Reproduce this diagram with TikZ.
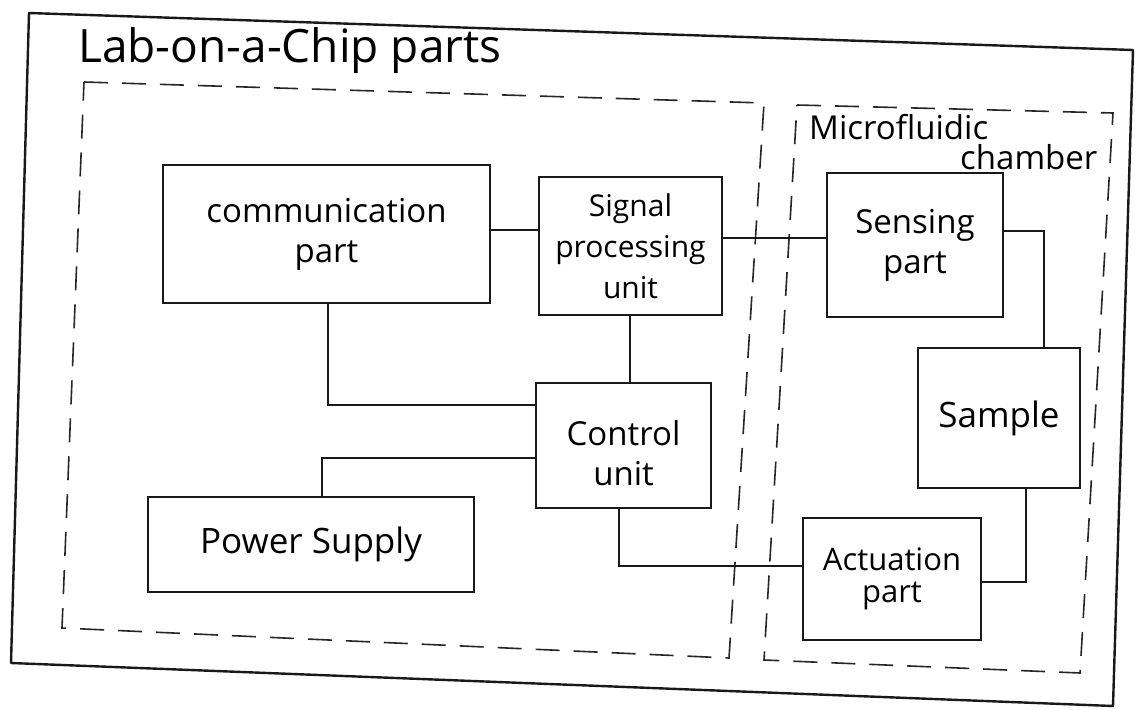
\documentclass[tikz,border=0pt]{standalone}
\usepackage{fontspec}
\setmainfont{Open Sans}
\begin{document}
\begin{tikzpicture}[x=1pt,y=-1pt,
  ink/.style={draw=black!90, line width=2pt},
  block/.style={ink, rectangle, inner sep=0pt, align=center,
    font=\fontsize{33}{40}\selectfont},
  wire/.style={draw=black!90, line width=1.8pt},
  outerframe/.style={draw=black!90, line width=2.4pt, line join=round},
  zone/.style={draw=black!85, line width=1.6pt, dash pattern=on 24pt off 14pt},
  caption/.style={inner sep=0pt, anchor=base west},
]
\useasboundingbox[fill=white] (0,0) rectangle (1136,710);

% outer sheet border and title
\draw[outerframe] (29,13) -- (1133,50) -- (1113,706) -- (11,663) -- cycle;
\node[caption, font=\fontsize{46}{50}\selectfont] (title) at (78,62) {Lab-on-a-Chip parts};

% electronics zone and microfluidic chamber
\draw[zone] (84,82) -- (764,103) -- (729,658) -- (62,628) -- cycle;
\draw[zone] (797,105) -- (1113,113) -- (1080,673) -- (764,660) -- cycle;
\node[caption, font=\fontsize{33}{36}\selectfont] (mfa) at (809,139) {Microfluidic};
\node[caption, font=\fontsize{33}{36}\selectfont] (mfb) at (960,169) {chamber};

% blocks
\node[block, minimum width=327pt, minimum height=138pt] (comm) at (326.5,234) {communication\\part};
\node[block, minimum width=183pt, minimum height=138pt, font=\fontsize{30}{41}\selectfont] (sig) at (630.5,246) {Signal\\processing\\unit};
\node[block, minimum width=176pt, minimum height=144pt] (sens) at (915,245) {Sensing\\part};
\node[block, minimum width=162pt, minimum height=140pt, font=\fontsize{35}{40}\selectfont] (samp) at (999,418) {Sample};
\node[block, minimum width=175pt, minimum height=125pt] (ctrl) at (623.5,445.5) {\rule{0pt}{40pt}Control\\unit};
\node[block, minimum width=326pt, minimum height=95pt, font=\fontsize{35}{40}\selectfont] (pow) at (311,544.5) {Power Supply};
\node[block, minimum width=178pt, minimum height=122pt, font=\fontsize{31}{32}\selectfont] (act) at (892,579) {Actuation\\part};

% routing levels for the connectors
\coordinate (ya) at (0,230);
\coordinate (yb) at (0,238);
\coordinate (yc) at (0,231);
\coordinate (xc) at (1044,0);
\coordinate (xd) at (1026,0);
\coordinate (yd) at (0,582);
\coordinate (xe) at (328,0);
\coordinate (ye) at (0,405);
\coordinate (xf) at (322,0);
\coordinate (yf) at (0,458);
\coordinate (xg) at (630,0);
\coordinate (xh) at (619,0);
\coordinate (yh) at (0,566);

% connectors
\draw[wire] (comm.east |- ya) -- (sig.west |- ya);
\draw[wire] (sig.east |- yb) -- (sens.west |- yb);
\draw[wire] (sens.east |- yc) -| (xc |- samp.north);
\draw[wire] (xd |- samp.south) |- (act.east |- yd);
\draw[wire] (xe |- comm.south) |- (ctrl.west |- ye);
\draw[wire] (ctrl.west |- yf) -| (xf |- pow.north);
\draw[wire] (xg |- sig.south) -- (xg |- ctrl.north);
\draw[wire] (xh |- ctrl.south) |- (act.west |- yh);
\end{tikzpicture}
\end{document}
